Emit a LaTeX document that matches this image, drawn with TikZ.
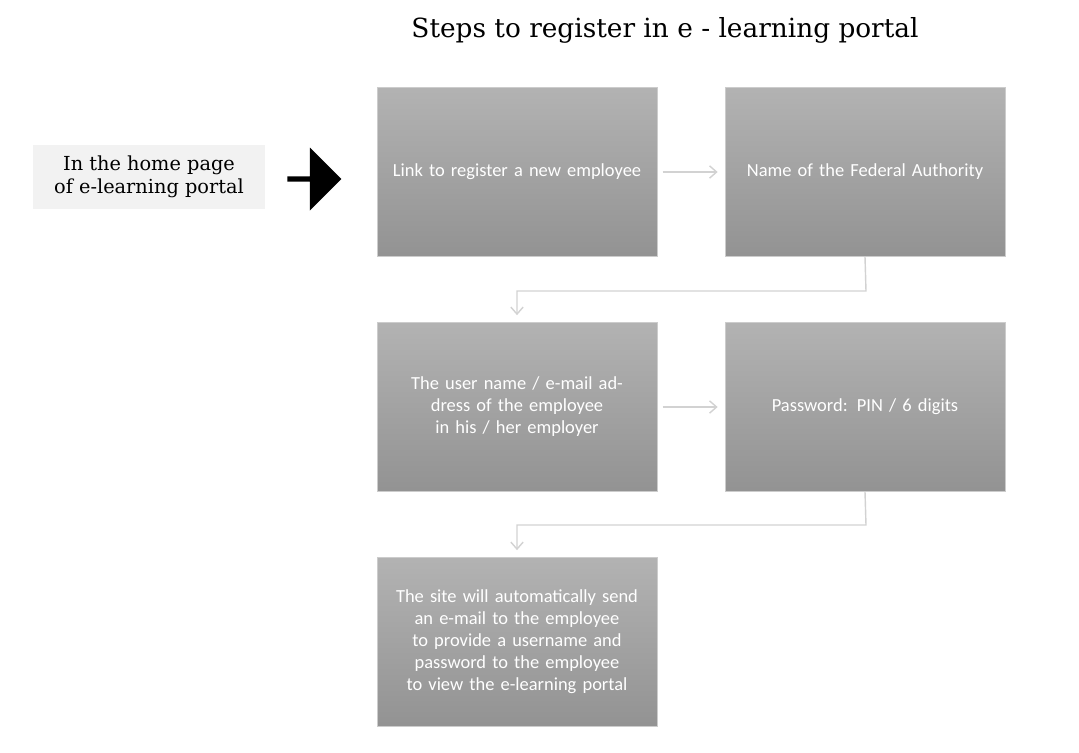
\documentclass[tikz,border=0pt]{standalone}
\usepackage{fontspec}
\setmainfont{DejaVu Serif}
\newfontfamily\boxfont{Carlito}
\usetikzlibrary{positioning,shapes.arrows,arrows.meta}

\begin{document}
\begin{tikzpicture}[x=0.02cm,y=-0.02cm,
stepbox/.style={draw=gray!40, top color=gray!60, bottom color=gray!85, minimum width=5.6cm, minimum height=3.38cm, text width=5.2cm, align=center, text=white, font=\boxfont\fontsize{10.5}{12.5}\selectfont},
link/.style={draw=gray!35, line width=0.8pt, -{Straight Barb[length=4pt,width=7pt]}}
]
\useasboundingbox (0,0) rectangle (1079,752);
\node[font=\fontsize{15}{18}\selectfont] (title) at (665,30) {Steps to register in e - learning portal};
\node[fill=gray!10, minimum width=4.64cm, minimum height=1.28cm, align=center, font=\fontsize{11}{13}\selectfont] (home) at (149,177) {In the home page\\of e-learning portal};
\node[single arrow, fill=black, minimum height=1.08cm, single arrow head extend=0.08cm, minimum width=1.26cm, inner sep=0pt] (go) at (313,179) {};
\node[stepbox] (link) at (517,172) {Link to register a new employee\\[1.2em]};
\node[stepbox] (authority) at (865,172) {Name of the Federal Authority};
\node[stepbox] (user) at (517,407) {The user name / e-mail address of the employee in his / her employer};
\node[stepbox] (pass) at (865,407) {Password: PIN / 6 digits};
\node[stepbox] (send) at (517,642) {The site will automatically send an e-mail to the employee to provide a username and password to the employee to view the e-learning portal};
\coordinate (bend1) at (866,291);
\coordinate (bend2) at (866,525);
\draw[link] ([xshift=3pt]link.east) -- ([xshift=-4pt]authority.west);
\draw[link] (authority.south) -- (bend1) -| ([yshift=4pt]user.north);
\draw[link] ([xshift=3pt]user.east) -- ([xshift=-4pt]pass.west);
\draw[link] (pass.south) -- (bend2) -| ([yshift=4pt]send.north);
\end{tikzpicture}
\end{document}
